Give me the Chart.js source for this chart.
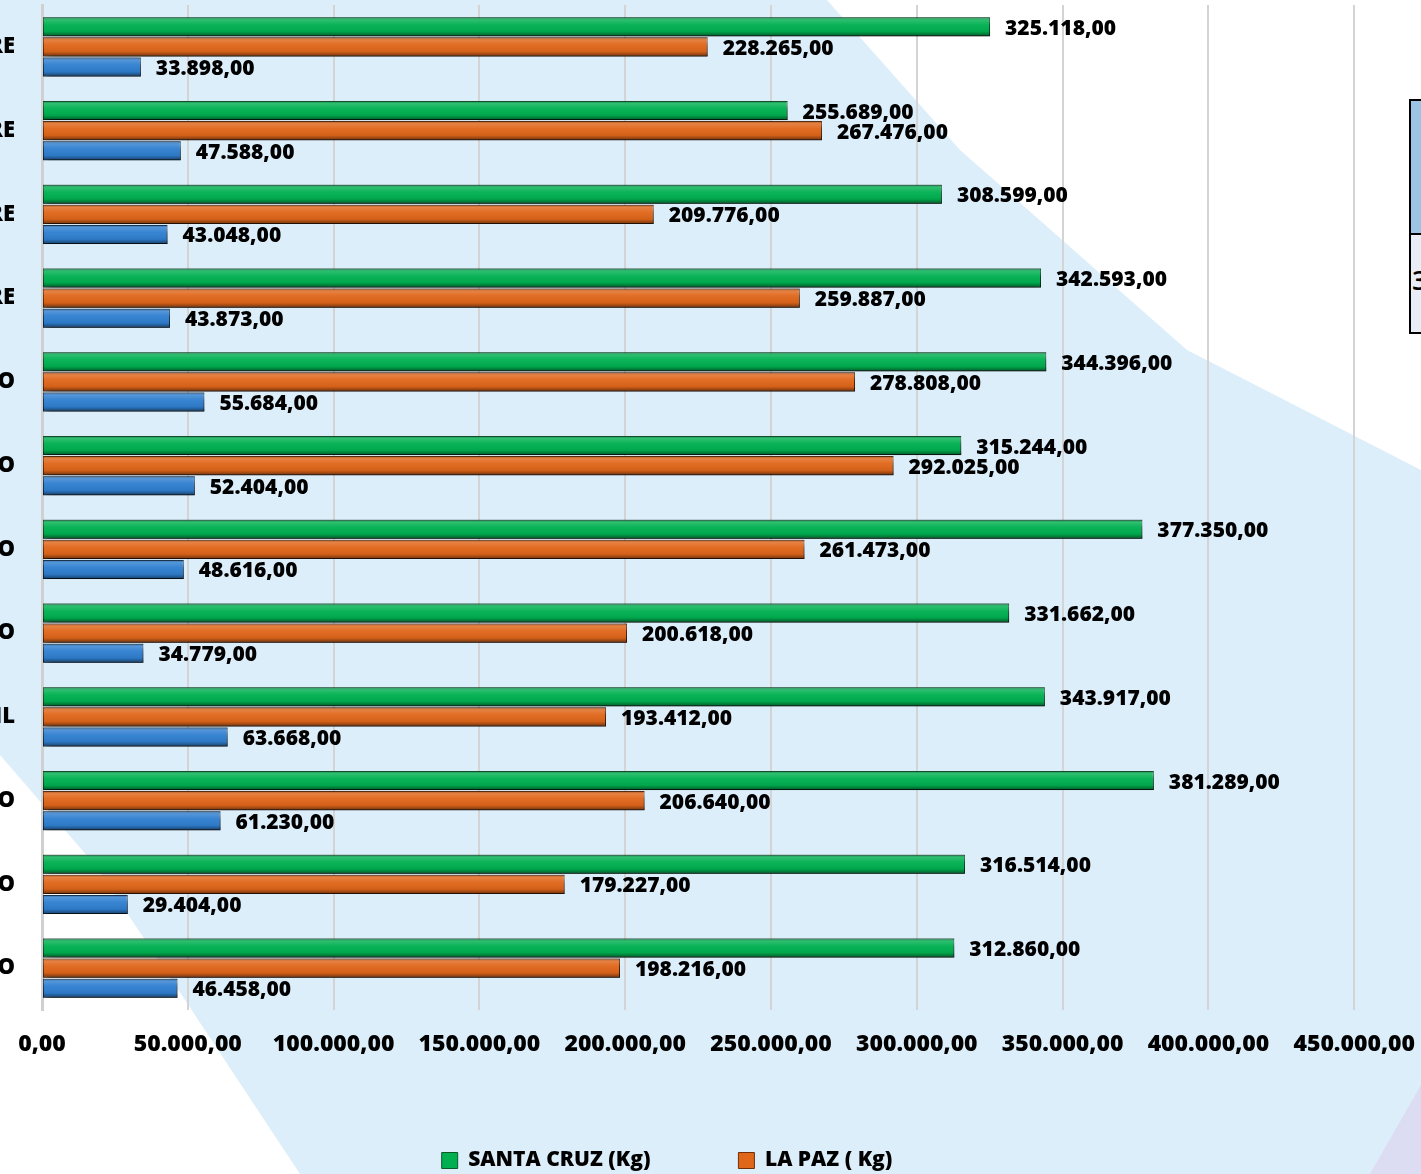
<!DOCTYPE html>
<html>
<head>
<meta charset="utf-8">
<script src="https://cdn.jsdelivr.net/npm/chart.js@4.4.1/dist/chart.umd.min.js"></script>
<style>
  html, body { margin: 0; padding: 0; width: 1421px; height: 1174px; overflow: hidden; background: #fff; position: relative; }
  #bg { position: absolute; left: 0; top: 0; }
  #wrap { position: absolute; left: -22px; top: 0; width: 1458px; height: 1181px; }
  .tbl { position: absolute; left: 1409px; top: 99px; width: 200px; height: 231px; border: 2px solid #000; background: #e9edf7; font-family: "Open Sans", sans-serif; }
  .tbl .head { height: 132px; background: #9dc3e6; border-bottom: 2px solid #000; }
  .tbl .cell { padding: 30px 0 0 1px; font-size: 27px; line-height: 30px; font-weight: 600; color: #000; }
</style>
</head>
<body>
<svg id="bg" width="1421" height="1174">
  <polygon fill="#ddeefb" points="0,0 827,0 960,150 1187,350 1421,470 1421,1174 300,1174 185,1000 95,865 0,755"/>
  <polygon fill="#dcdcf2" points="1421,1085 1421,1174 1370,1174"/>
</svg>
<div class="tbl"><div class="head"></div><div class="cell">3</div></div>
<div id="wrap"><canvas id="chart"></canvas></div>
<script>
const months = ['ENERO', 'FEBRERO', 'MARZO', 'ABRIL', 'MAYO', 'JUNIO', 'JULIO', 'AGOSTO', 'SEPTIEMBRE', 'OCTUBRE', 'NOVIEMBRE', 'DICIEMBRE'];
const santaCruz = [312860, 316514, 381289, 343917, 331662, 377350, 315244, 344396, 342593, 308599, 255689, 325118];
const laPaz = [198216, 179227, 206640, 193412, 200618, 261473, 292025, 278808, 259887, 209776, 267476, 228265];
const cochabamba = [46458, 29404, 61230, 63668, 34779, 48616, 52404, 55684, 43873, 43048, 47588, 33898];
const xMax = 450000;
const xStep = 50000;

const FONT = '"Open Sans", Lato, sans-serif';

// 325118 -> "325.118,00"
function fmt(v) {
    return Math.round(v).toString().replace(/\B(?=(\d{3})+(?!\d))/g, '.') + ',00';
}

// shadow under the bars, a cylinder-like shine on top, then the value labels
const barStyle = {
    id: 'barStyle',
    beforeDatasetsDraw(chart) {
        const c = chart.ctx;
        c.save();
        c.shadowColor = 'rgba(0,0,0,0.5)';
        c.shadowBlur = 6;
        c.shadowOffsetX = 3;
        c.shadowOffsetY = 5;
    },
    afterDatasetsDraw(chart) {
        const c = chart.ctx;
        c.restore();
        c.save();
        chart.data.datasets.forEach((ds, di) => {
            chart.getDatasetMeta(di).data.forEach(el => {
                const { x, y, base, height } = el.getProps(['x', 'y', 'base', 'height'], true);
                const g = c.createLinearGradient(0, y - height / 2, 0, y + height / 2);
                g.addColorStop(0, 'rgba(0,0,0,0.35)');
                g.addColorStop(0.14, 'rgba(255,255,255,0.18)');
                g.addColorStop(0.4, 'rgba(255,255,255,0.04)');
                g.addColorStop(0.75, 'rgba(0,0,0,0.06)');
                g.addColorStop(1, 'rgba(0,0,0,0.5)');
                c.fillStyle = g;
                c.fillRect(base, y - height / 2, x - base, height);
            });
        });
        c.font = '800 21px ' + FONT;
        c.fillStyle = '#000';
        c.textAlign = 'left';
        c.textBaseline = 'middle';
        chart.data.datasets.forEach((ds, di) => {
            chart.getDatasetMeta(di).data.forEach((el, i) => {
                c.fillText(fmt(ds.data[i]), el.x + 15, el.y + 2);
            });
        });
        c.restore();
    }
};

new Chart(document.getElementById('chart'), {
    type: 'bar',
    data: {
        labels: months,
        datasets: [
            {
                label: 'SANTA CRUZ (Kg)',
                data: santaCruz,
                backgroundColor: '#00b050',
                borderColor: '#0b5a28',
                borderWidth: 1,
                borderSkipped: false,
            },
            {
                label: 'LA PAZ ( Kg)',
                data: laPaz,
                backgroundColor: '#e0661a',
                borderColor: '#6e3008',
                borderWidth: 1,
                borderSkipped: false,
            },
            {
                label: 'COCHABAMBA (Kg)',
                data: cochabamba,
                backgroundColor: '#2f7fd0',
                borderColor: '#12345a',
                borderWidth: 1,
                borderSkipped: false,
            },
        ],
    },
    options: {
        indexAxis: 'y',
        responsive: true,
        maintainAspectRatio: false,
        animation: false,
        barPercentage: 0.95,
        categoryPercentage: 0.72,
        layout: { padding: { top: 5, right: 80, left: 0, bottom: 0 } },
        scales: {
            x: {
                min: 0,
                max: xMax,
                ticks: {
                    stepSize: xStep,
                    callback: v => fmt(v),
                    font: { family: FONT, size: 23, weight: '800' },
                    color: '#000',
                    padding: 21,
                    maxRotation: 0,
                },
                grid: { color: '#d4d4d4', lineWidth: 2, drawTicks: false },
                border: { display: false },
                afterFit: s => { s.height = 52; },
            },
            y: {
                reverse: true,
                ticks: {
                    font: { family: FONT, size: 22, weight: '800' },
                    color: '#000',
                    padding: 27,
                },
                grid: { display: false, drawTicks: false },
                border: { display: true, color: '#d0d0d0', width: 3 },
                afterFit: s => {
                    s.width = 64;
                    s.paddingTop = 0;
                    s.paddingBottom = 0;
                },
            },
        },
        plugins: {
            tooltip: { enabled: false },
            legend: {
                position: 'bottom',
                labels: {
                    filter: item => item.datasetIndex !== 2,
                    font: { family: FONT, size: 21, weight: '800' },
                    color: '#000',
                    boxWidth: 16,
                    boxHeight: 16,
                    padding: 88,
                },
            },
        },
    },
    plugins: [barStyle],
});
</script>
</body>
</html>
